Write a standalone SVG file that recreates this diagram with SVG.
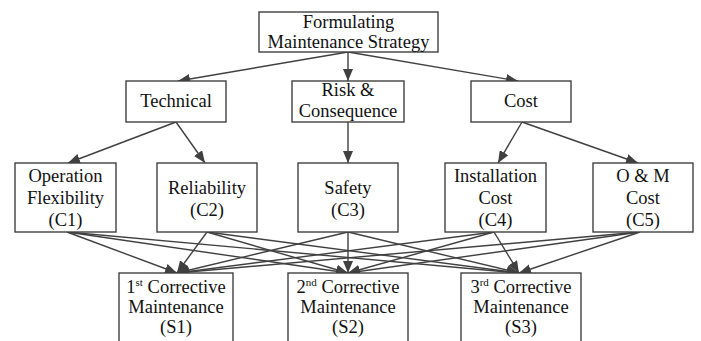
<svg xmlns="http://www.w3.org/2000/svg" width="701" height="341" viewBox="0 0 701 341">
<style>
.box{fill:#fff;stroke:#404040;stroke-width:1.4}
.t{font-family:'Liberation Serif','Times New Roman',serif;font-size:18.5px;fill:#111;text-anchor:middle}
.sup{font-size:11px}
.c{stroke:#404040;stroke-width:1.4;fill:none;marker-end:url(#ah)}
</style>
<defs>
<marker id="ah" markerUnits="userSpaceOnUse" markerWidth="12" markerHeight="10" refX="12" refY="5" orient="auto">
<path d="M0,0 L12,5 L0,10 z" fill="#404040"/>
</marker>
</defs>
<rect width="701" height="341" fill="#fff"/>
<g id="connectors">
<line class="c" x1="348" y1="52" x2="178" y2="81"/>
<line class="c" x1="348" y1="52" x2="348" y2="81"/>
<line class="c" x1="348" y1="52" x2="518" y2="81"/>
<line class="c" x1="176" y1="122" x2="68" y2="163"/>
<line class="c" x1="176" y1="122" x2="205" y2="163"/>
<line class="c" x1="348" y1="122" x2="348" y2="163"/>
<line class="c" x1="522" y1="122" x2="498" y2="163"/>
<line class="c" x1="522" y1="122" x2="638" y2="163"/>
<line class="c" x1="67" y1="232" x2="177" y2="273"/>
<line class="c" x1="67" y1="232" x2="348" y2="273"/>
<line class="c" x1="67" y1="232" x2="519" y2="273"/>
<line class="c" x1="207" y1="232" x2="177" y2="273"/>
<line class="c" x1="207" y1="232" x2="348" y2="273"/>
<line class="c" x1="207" y1="232" x2="519" y2="273"/>
<line class="c" x1="348" y1="232" x2="177" y2="273"/>
<line class="c" x1="348" y1="232" x2="348" y2="273"/>
<line class="c" x1="348" y1="232" x2="519" y2="273"/>
<line class="c" x1="494" y1="232" x2="177" y2="273"/>
<line class="c" x1="494" y1="232" x2="348" y2="273"/>
<line class="c" x1="494" y1="232" x2="519" y2="273"/>
<line class="c" x1="640" y1="232" x2="177" y2="273"/>
<line class="c" x1="640" y1="232" x2="348" y2="273"/>
<line class="c" x1="640" y1="232" x2="519" y2="273"/>
</g>
<g id="goal">
<rect class="box" x="259" y="12" width="179" height="40"/>
<text class="t" x="348.5" y="28">Formulating</text>
<text class="t" x="348.5" y="48">Maintenance Strategy</text>
</g>
<g id="technical">
<rect class="box" x="126" y="81" width="100" height="41"/>
<text class="t" x="176" y="107">Technical</text>
</g>
<g id="risk">
<rect class="box" x="292" y="81" width="112" height="41"/>
<text class="t" x="348" y="96">Risk &amp;</text>
<text class="t" x="348" y="117">Consequence</text>
</g>
<g id="cost">
<rect class="box" x="471" y="81" width="100" height="41"/>
<text class="t" x="521" y="107">Cost</text>
</g>
<g id="c1">
<rect class="box" x="15" y="163" width="101" height="69"/>
<text class="t" x="65.5" y="182">Operation</text>
<text class="t" x="65.5" y="204">Flexibility</text>
<text class="t" x="65.5" y="226">(C1)</text>
</g>
<g id="c2">
<rect class="box" x="157" y="163" width="100" height="69"/>
<text class="t" x="207" y="194">Reliability</text>
<text class="t" x="207" y="216">(C2)</text>
</g>
<g id="c3">
<rect class="box" x="298" y="163" width="100" height="69"/>
<text class="t" x="348" y="194">Safety</text>
<text class="t" x="348" y="216">(C3)</text>
</g>
<g id="c4">
<rect class="box" x="445" y="163" width="101" height="69"/>
<text class="t" x="495.5" y="182">Installation</text>
<text class="t" x="495.5" y="204">Cost</text>
<text class="t" x="495.5" y="226">(C4)</text>
</g>
<g id="c5">
<rect class="box" x="593" y="163" width="100" height="69"/>
<text class="t" x="643" y="182">O &amp; M</text>
<text class="t" x="643" y="204">Cost</text>
<text class="t" x="643" y="226">(C5)</text>
</g>
<g id="s1">
<rect class="box" x="119" y="273" width="114" height="80"/>
<text class="t" x="176" y="293">1<tspan class="sup" dy="-7">st</tspan><tspan dy="7"> Corrective</tspan></text>
<text class="t" x="176" y="313">Maintenance</text>
<text class="t" x="176" y="333">(S1)</text>
</g>
<g id="s2">
<rect class="box" x="288" y="273" width="120" height="80"/>
<text class="t" x="348" y="293">2<tspan class="sup" dy="-7">nd</tspan><tspan dy="7"> Corrective</tspan></text>
<text class="t" x="348" y="313">Maintenance</text>
<text class="t" x="348" y="333">(S2)</text>
</g>
<g id="s3">
<rect class="box" x="461" y="273" width="120" height="80"/>
<text class="t" x="521" y="293">3<tspan class="sup" dy="-7">rd</tspan><tspan dy="7"> Corrective</tspan></text>
<text class="t" x="521" y="313">Maintenance</text>
<text class="t" x="521" y="333">(S3)</text>
</g>
</svg>
